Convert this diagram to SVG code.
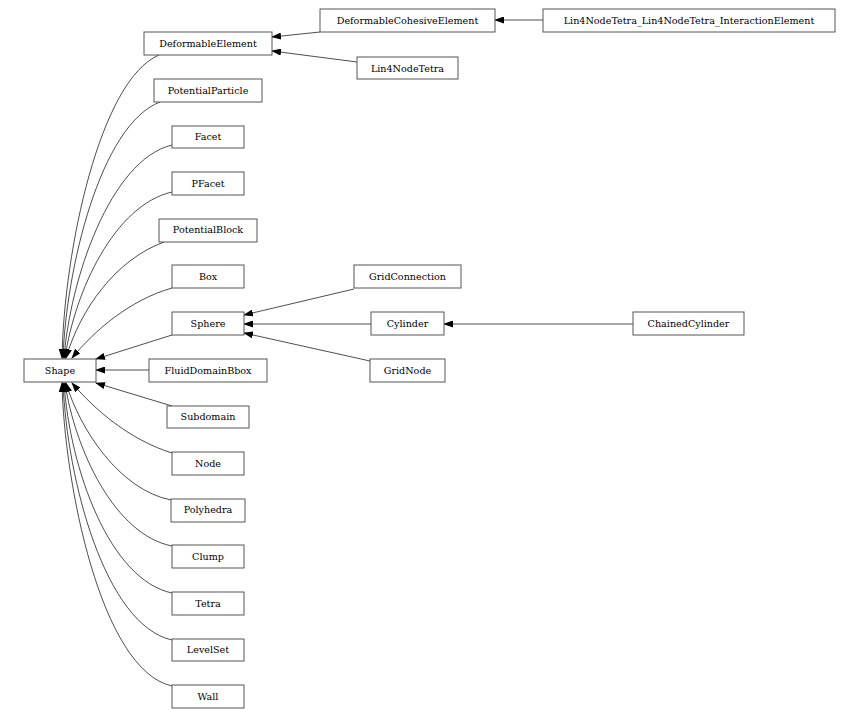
<svg xmlns="http://www.w3.org/2000/svg" width="860" height="719" viewBox="0 0 860 719">
<style>
.n rect{fill:#fff;stroke:#555;stroke-width:1}
.n text{font-family:"DejaVu Serif",serif;font-size:9.6px;text-anchor:middle;fill:#000}
#edges path{fill:none;stroke:#000;stroke-width:0.7;marker-end:url(#a)}
</style>
<defs><marker id="a" markerWidth="10" markerHeight="7" refX="9" refY="3.5" orient="auto" markerUnits="userSpaceOnUse"><path d="M0,0 L10,3.5 L0,7z" fill="#000"/></marker></defs>
<rect width="860" height="719" fill="#fff"/>
<g id="edges">
<path d="M320,32 L272,37"/>
<path d="M357,62 L272,51"/>
<path d="M543,20 L495,20"/>
<path d="M354,289 L244,315"/>
<path d="M371,324 L244,324"/>
<path d="M370,361 L244,333"/>
<path d="M633,324 L444,324"/>
<path d="M159,55 C100,80 64,250 62,358"/>
<path d="M160,102 C100,125 66,270 63,358"/>
<path d="M172,145 C110,160 70,280 64,358"/>
<path d="M172,192 C115,205 75,290 65,358"/>
<path d="M164,242 C115,260 80,310 66,358"/>
<path d="M172,288 C130,300 95,330 72,358"/>
<path d="M172,335 L96,359"/>
<path d="M149,370 L96,370"/>
<path d="M172,406 L96,383"/>
<path d="M172,453 C130,440 95,410 72,383"/>
<path d="M171,500 C120,490 80,430 66,383"/>
<path d="M172,546 C115,535 75,450 65,383"/>
<path d="M172,593 C110,580 70,470 64,383"/>
<path d="M172,640 C105,625 67,480 63,383"/>
<path d="M172,686 C100,670 64,480 62,383"/>
</g>
<g id="Shape" class="n"><rect x="24" y="359" width="72" height="23"/><text x="60" y="374">Shape</text></g>
<g id="DeformableElement" class="n"><rect x="144" y="32" width="128" height="23"/><text x="208" y="47">DeformableElement</text></g>
<g id="DeformableCohesiveElement" class="n"><rect x="320" y="9" width="175" height="23"/><text x="407.5" y="24">DeformableCohesiveElement</text></g>
<g id="Lin4NodeTetra_Lin4NodeTetra_InteractionElement" class="n"><rect x="543" y="9" width="292" height="23"/><text x="689" y="24">Lin4NodeTetra_Lin4NodeTetra_InteractionElement</text></g>
<g id="Lin4NodeTetra" class="n"><rect x="357" y="57" width="101" height="22"/><text x="407.5" y="72">Lin4NodeTetra</text></g>
<g id="PotentialParticle" class="n"><rect x="154" y="79" width="108" height="23"/><text x="208" y="94">PotentialParticle</text></g>
<g id="Facet" class="n"><rect x="172" y="126" width="72" height="22"/><text x="208" y="140">Facet</text></g>
<g id="PFacet" class="n"><rect x="172" y="172" width="72" height="23"/><text x="208" y="187">PFacet</text></g>
<g id="PotentialBlock" class="n"><rect x="159" y="219" width="98" height="23"/><text x="208" y="233">PotentialBlock</text></g>
<g id="Box" class="n"><rect x="172" y="265" width="72" height="23"/><text x="208" y="280">Box</text></g>
<g id="Sphere" class="n"><rect x="172" y="312" width="72" height="23"/><text x="208" y="327">Sphere</text></g>
<g id="GridConnection" class="n"><rect x="354" y="265" width="107" height="23"/><text x="407.5" y="280">GridConnection</text></g>
<g id="Cylinder" class="n"><rect x="371" y="312" width="73" height="23"/><text x="407.5" y="327">Cylinder</text></g>
<g id="ChainedCylinder" class="n"><rect x="633" y="312" width="111" height="23"/><text x="688.5" y="327">ChainedCylinder</text></g>
<g id="GridNode" class="n"><rect x="370" y="359" width="75" height="23"/><text x="407.5" y="374">GridNode</text></g>
<g id="FluidDomainBbox" class="n"><rect x="149" y="359" width="118" height="23"/><text x="208" y="374">FluidDomainBbox</text></g>
<g id="Subdomain" class="n"><rect x="167" y="406" width="82" height="22"/><text x="208" y="420">Subdomain</text></g>
<g id="Node" class="n"><rect x="172" y="452" width="72" height="23"/><text x="208" y="467">Node</text></g>
<g id="Polyhedra" class="n"><rect x="171" y="499" width="74" height="23"/><text x="208" y="513">Polyhedra</text></g>
<g id="Clump" class="n"><rect x="172" y="545" width="72" height="23"/><text x="208" y="560">Clump</text></g>
<g id="Tetra" class="n"><rect x="172" y="592" width="72" height="23"/><text x="208" y="607">Tetra</text></g>
<g id="LevelSet" class="n"><rect x="172" y="639" width="72" height="22"/><text x="208" y="653">LevelSet</text></g>
<g id="Wall" class="n"><rect x="172" y="685" width="72" height="23"/><text x="208" y="700">Wall</text></g>
</svg>
